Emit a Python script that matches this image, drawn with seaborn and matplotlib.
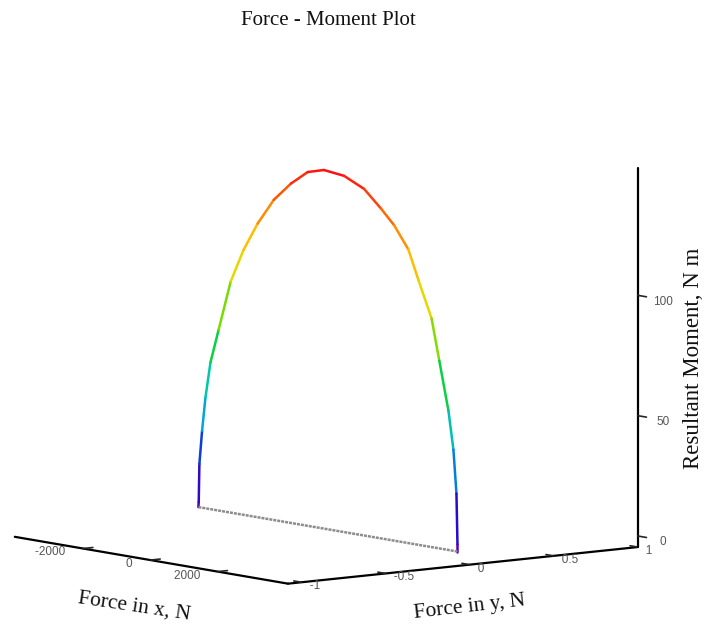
import matplotlib
matplotlib.use("Agg")
import matplotlib.pyplot as plt
import seaborn as sns
from mpl_toolkits.mplot3d.art3d import Line3DCollection

# Force / moment trace (N, N, N m)
force_x = [-3970, -3960, -3940, -3860, -3760, -3610, -3370, -3010, -2630,
           -2210, -1730, -1220, -720, -240, 360, 955, 1460, 1850, 2270,
           2570, 2960, 3190, 3460, 3610, 3700, 3730, 3730]
force_y = [0] * len(force_x)
moment = [0, 2, 18, 32, 46, 61, 75, 96, 110, 122, 133, 141, 147, 149, 148,
          144, 137, 131, 122, 110, 95, 78, 58, 42, 24, 3, 0]

x_ticks = [-2000, 0, 2000]
y_ticks = [-1, -0.5, 0, 0.5, 1]
z_ticks = [0, 50, 100]
x_tick_labels = ["-2000", "0", "2000"]
y_tick_labels = ["-1", "-0.5", "0", "0.5", "1"]
z_tick_labels = ["0", "50", "100"]

title = "Force - Moment Plot"
x_label = "Force in x, N"
y_label = "Force in y, N"
z_label = "Resultant Moment, N m"

sns.set_theme(style="white")
serif = ["Liberation Serif", "DejaVu Serif"]
sans = ["Liberation Sans", "DejaVu Sans"]

fig = plt.figure(figsize=(7.09, 6.34), dpi=100)
ax = fig.add_axes([-0.03, 0.013, 0.96, 0.84], projection="3d")
ax.set_proj_type("ortho")
ax.view_init(elev=7.7, azim=-38)
ax.set_box_aspect((4, 4, 3.45), zoom=1.34)

# colour map running violet -> blue -> cyan -> green -> yellow -> red
cmap = sns.blend_palette(["#5a00b4", "#1010d8", "#00a0e0", "#00d0a0",
                          "#10d010", "#c8e000", "#ffd000", "#ff8000",
                          "#ff1010"], as_cmap=True)
zmin, zmax = min(moment), max(moment)

segs = []
cols = []
for i in range(len(force_x) - 1):
    segs.append([(force_x[i], force_y[i], moment[i]),
                 (force_x[i + 1], force_y[i + 1], moment[i + 1])])
    zm = 0.5 * (moment[i] + moment[i + 1])
    cols.append(cmap((zm - zmin) / (zmax - zmin)))
lc = Line3DCollection(segs, colors=cols, linewidths=1.8,
                      capstyle="round", joinstyle="round")
ax.add_collection3d(lc)

# closing chord along the base
ax.plot([force_x[0], force_x[-1]], [force_y[0], force_y[-1]],
        [moment[0], moment[-1]], color="#8c8c8c", lw=1.8,
        dashes=(1.2, 0.4))

ax.set_xlim(-4030, 4090)
ax.set_ylim(-1.08, 1.0)
ax.set_zlim(-4.6, 153)

# x labels sit to the left of their ticks, y labels to the right
ax.set_xticks(x_ticks)
ax.set_yticks(y_ticks)
ax.set_zticks(z_ticks)
ax.set_xticklabels([t + " " * 6 for t in x_tick_labels])
ax.set_yticklabels([" " * 3 + t for t in y_tick_labels])
ax.set_zticklabels(z_tick_labels)

for axis in (ax.xaxis, ax.yaxis, ax.zaxis):
    axis.set_pane_color((1, 1, 1, 0))
    axis.pane.set_edgecolor((1, 1, 1, 0))
    axis.line.set_color("black")
    axis.line.set_linewidth(1.6)
    axis._axinfo["tick"]["color"] = "black"
    axis._axinfo["tick"]["linewidth"] = {True: 1.2, False: 1.0}
    axis._axinfo["tick"]["inward_factor"] = 0.0
    axis._axinfo["tick"]["outward_factor"] = 0.35
ax.grid(False)

ax.zaxis.set_ticks_position("upper")
ax.zaxis.set_label_position("upper")
ax.zaxis._axinfo["tick"]["inward_factor"] = 0.4
ax.zaxis._axinfo["tick"]["outward_factor"] = 0.0

ax.tick_params(axis="x", labelsize=8.5, labelcolor="#555555", pad=-9)
ax.tick_params(axis="y", labelsize=8.5, labelcolor="#555555", pad=-9)
ax.tick_params(axis="z", labelsize=8.5, labelcolor="#555555", pad=0)
for lab in ax.get_xticklabels() + ax.get_yticklabels() + ax.get_zticklabels():
    lab.set_family(sans)
for lab in ax.get_xticklabels():
    lab.set_horizontalalignment("right")
for lab in ax.get_yticklabels():
    lab.set_horizontalalignment("left")

ax.set_zlabel(z_label, family=serif, fontsize=16.5, color="#111111",
              labelpad=-3)

# horizontal-axis titles, tilted along their edges
fig.text(134 / 709, 1 - 607 / 634, x_label, family=serif, fontsize=15.5,
         color="#111111", rotation=-8.5, rotation_mode="anchor",
         ha="center", va="center")
fig.text(470 / 709, 1 - 607 / 634, y_label, family=serif, fontsize=15.5,
         color="#111111", rotation=6.5, rotation_mode="anchor",
         ha="center", va="center")

fig.text(0.463, 0.968, title, family=serif, fontsize=15, color="#111111",
         ha="center", va="center")

fig.savefig("out.png", dpi=100)
